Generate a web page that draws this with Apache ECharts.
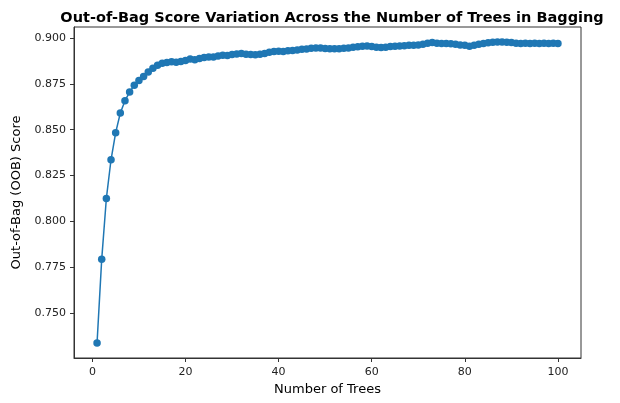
<!DOCTYPE html>
<html>
<head>
<meta charset="utf-8">
<script src="https://cdn.jsdelivr.net/npm/echarts@6/dist/echarts.min.js"></script>
<style>
	html, body { margin: 0; padding: 0; background: #fff; }
	#chart { width: 620px; height: 403px; }
</style>
</head>
<body>
<div id="chart"></div>
<script>
	// number of trees (x)
	var trees = [1,2,3,4,5,6,7,8,9,10,11,12,13,14,15,16,17,18,19,20,
		21,22,23,24,25,26,27,28,29,30,31,32,33,34,35,36,37,38,39,40,
		41,42,43,44,45,46,47,48,49,50,51,52,53,54,55,56,57,58,59,60,
		61,62,63,64,65,66,67,68,69,70,71,72,73,74,75,76,77,78,79,80,
		81,82,83,84,85,86,87,88,89,90,91,92,93,94,95,96,97,98,99,100];

	// out-of-bag score
	var oobScores = [0.7337,0.7793,0.8125,0.8336,0.8484,0.8591,0.8658,0.8705,0.8743,0.8768,
		0.8790,0.8815,0.8835,0.8852,0.8862,0.8867,0.8870,0.8868,0.8872,0.8878,
		0.8885,0.8882,0.8888,0.8893,0.8897,0.8896,0.8902,0.8906,0.8905,0.8910,
		0.8913,0.8916,0.8912,0.8910,0.8908,0.8912,0.8915,0.8922,0.8926,0.8928,
		0.8926,0.8930,0.8932,0.8935,0.8938,0.8940,0.8944,0.8946,0.8946,0.8943,
		0.8942,0.8941,0.8942,0.8944,0.8946,0.8950,0.8952,0.8955,0.8957,0.8953,
		0.8950,0.8948,0.8950,0.8953,0.8955,0.8956,0.8958,0.8960,0.8960,0.8962,
		0.8966,0.8972,0.8975,0.8972,0.8970,0.8970,0.8968,0.8966,0.8962,0.8960,
		0.8955,0.8960,0.8966,0.8970,0.8974,0.8977,0.8978,0.8978,0.8977,0.8975,
		0.8972,0.8970,0.8971,0.8970,0.8971,0.8970,0.8971,0.8970,0.8971,0.8970];

	var xTicks = [0, 20, 40, 60, 80, 100];
	var yTicks = [0.750, 0.775, 0.800, 0.825, 0.850, 0.875, 0.900];

	var points = trees.map(function(t, i) { return [t, oobScores[i]]; });

	var font = 'DejaVu Sans';
	var option = {
		animation: false,
		title: {
			text: 'Out-of-Bag Score Variation Across the Number of Trees in Bagging',
			left: 327,
			textAlign: 'center',
			top: 6,
			textStyle: {
				fontFamily: font,
				fontSize: 14.5,
				fontWeight: 'bold',
				color: '#000'
			}
		},
		grid: {
			left: 74,
			right: 39,
			top: 27,
			bottom: 45,
			show: true,
			borderColor: '#333',
			borderWidth: 1,
			backgroundColor: 'transparent'
		},
		xAxis: {
			type: 'value',
			min: -3.95,
			max: 104.95,
			name: 'Number of Trees',
			nameLocation: 'middle',
			nameGap: 25,
			nameTextStyle: { fontFamily: font, fontSize: 13, color: '#000' },
			axisLine: { show: true, onZero: false, lineStyle: { color: '#333', width: 1 } },
			axisTick: { show: true, length: 4, customValues: xTicks, lineStyle: { color: '#333' } },
			axisLabel: {
				customValues: xTicks,
				fontFamily: font,
				fontSize: 11,
				color: '#222',
				margin: 9
			},
			splitLine: { show: false }
		},
		yAxis: {
			type: 'value',
			min: 0.7255,
			max: 0.906,
			name: 'Out-of-Bag (OOB) Score',
			nameLocation: 'middle',
			nameGap: 44,
			nameTextStyle: { fontFamily: font, fontSize: 13, color: '#000' },
			axisLine: { show: true, onZero: false, lineStyle: { color: '#333', width: 1 } },
			axisTick: { show: true, length: 4, customValues: yTicks, lineStyle: { color: '#333' } },
			axisLabel: {
				customValues: yTicks,
				fontFamily: font,
				fontSize: 11,
				color: '#222',
				margin: 8,
				formatter: function(v) { return v.toFixed(3); }
			},
			splitLine: { show: false }
		},
		series: [{
			name: 'OOB Score',
			type: 'line',
			data: points,
			symbol: 'circle',
			symbolSize: 7.5,
			showAllSymbol: true,
			lineStyle: { width: 1.5, color: '#1f77b4' },
			itemStyle: { color: '#1f77b4' }
		}]
	};
	var chart = echarts.init(document.getElementById('chart'));
	chart.setOption(option);
</script>
</body>
</html>
